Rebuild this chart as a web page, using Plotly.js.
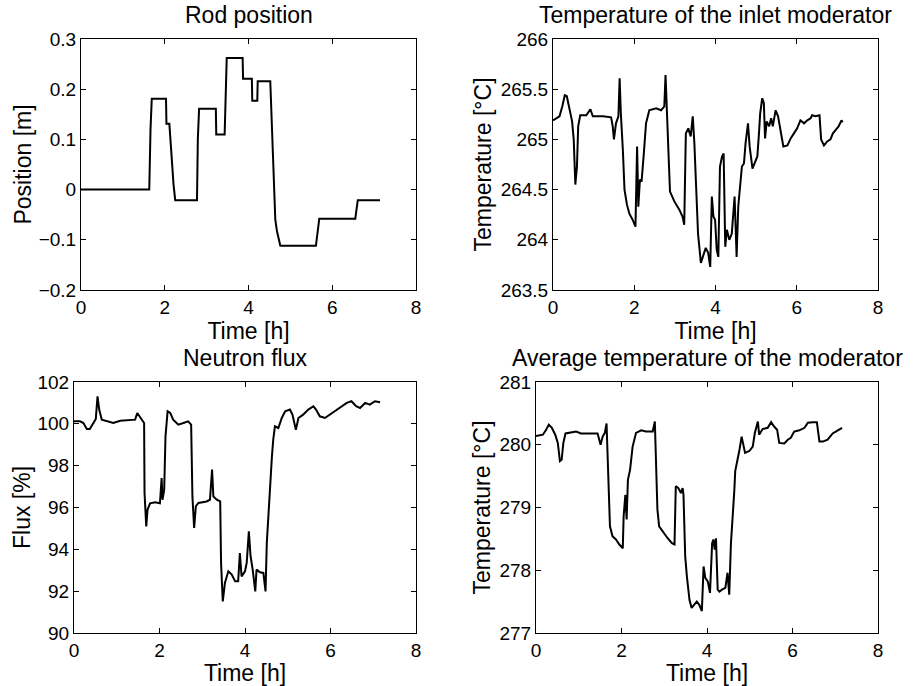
<!DOCTYPE html>
<html>
<head>
<meta charset="utf-8">
<script src="https://cdn.plot.ly/plotly-3.0.1.min.js"></script>
<style>html,body{margin:0;padding:0;background:#fff;}#chart{width:913px;height:686px;}</style>
</head>
<body>
<div id="chart"></div>
<script>
// ---- Rod position (top left) ----
const rodTime = [0, 1.63, 1.66, 1.69, 2.03, 2.04, 2.11, 2.16, 2.21, 2.25, 2.77, 2.79, 2.82, 3.22, 3.23, 3.43, 3.45, 3.48, 3.86, 3.87, 4.08, 4.09, 4.21, 4.22, 4.52, 4.56, 4.61, 4.64, 4.68, 4.76, 5.61, 5.69, 6.55, 6.61, 7.14];
const rodPos  = [0, 0, 0.12, 0.181, 0.181, 0.131, 0.131, 0.06, 0.01, -0.021, -0.021, 0.1, 0.161, 0.161, 0.11, 0.11, 0.2, 0.262, 0.262, 0.221, 0.221, 0.177, 0.177, 0.216, 0.216, 0.12, 0.013, -0.06, -0.083, -0.112, -0.112, -0.058, -0.058, -0.021, -0.021];

// ---- Inlet moderator temperature (top right) ----
const inletTime = [0, 0.08, 0.16, 0.23, 0.29, 0.34, 0.41, 0.47, 0.51, 0.55, 0.59, 0.62, 0.67, 0.82, 0.92, 0.98, 1.23, 1.43, 1.47, 1.50, 1.55, 1.61, 1.64, 1.67, 1.72, 1.76, 1.82, 1.88, 1.96, 2.03, 2.07, 2.10, 2.14, 2.18, 2.23, 2.29, 2.37, 2.54, 2.66, 2.74, 2.77, 2.81, 2.85, 2.88, 2.99, 3.11, 3.19, 3.23, 3.27, 3.33, 3.39, 3.44, 3.48, 3.52, 3.57, 3.64, 3.72, 3.76, 3.82, 3.87, 3.91, 3.95, 3.99, 4.03, 4.07, 4.11, 4.16, 4.20, 4.24, 4.28, 4.34, 4.40, 4.47, 4.52, 4.56, 4.61, 4.65, 4.70, 4.74, 4.80, 4.84, 4.91, 5.03, 5.07, 5.10, 5.15, 5.19, 5.22, 5.26, 5.32, 5.37, 5.41, 5.48, 5.54, 5.60, 5.67, 5.77, 5.85, 5.93, 6.01, 6.09, 6.18, 6.26, 6.34, 6.38, 6.46, 6.56, 6.60, 6.67, 6.75, 6.83, 6.89, 6.95, 7.03, 7.10, 7.13];
const inletTemp = [265.19, 265.21, 265.23, 265.33, 265.44, 265.43, 265.28, 265.18, 265.0, 264.55, 264.73, 265.13, 265.24, 265.24, 265.30, 265.23, 265.23, 265.22, 265.13, 265.0, 265.16, 265.23, 265.61, 265.26, 264.89, 264.50, 264.35, 264.26, 264.20, 264.13, 264.93, 264.33, 264.60, 264.58, 264.83, 265.16, 265.29, 265.31, 265.29, 265.33, 265.64, 265.29, 264.79, 264.48, 264.38, 264.30, 264.23, 264.15, 265.06, 265.11, 265.03, 265.23, 264.96, 264.56, 264.06, 263.77, 263.87, 263.92, 263.87, 263.73, 264.43, 264.23, 264.20, 263.90, 263.83, 264.73, 264.83, 264.86, 263.93, 264.10, 264.00, 264.06, 264.43, 263.83, 264.33, 264.53, 264.73, 264.76, 264.96, 265.16, 264.93, 264.71, 264.83, 265.06, 265.26, 265.41, 265.36, 265.01, 265.18, 265.13, 265.21, 265.13, 265.29, 265.23, 265.09, 264.93, 264.94, 265.01, 265.06, 265.11, 265.19, 265.16, 265.19, 265.21, 265.24, 265.23, 265.24, 265.0, 264.94, 264.98, 265.0, 265.06, 265.09, 265.13, 265.19, 265.17];

// ---- Neutron flux (bottom left) ----
const fluxTime = [0, 0.14, 0.22, 0.30, 0.37, 0.45, 0.51, 0.55, 0.59, 0.65, 0.76, 0.92, 1.08, 1.31, 1.43, 1.48, 1.54, 1.61, 1.64, 1.65, 1.69, 1.72, 1.78, 1.90, 2.01, 2.05, 2.07, 2.11, 2.14, 2.19, 2.25, 2.32, 2.44, 2.56, 2.67, 2.74, 2.77, 2.81, 2.85, 2.91, 3.10, 3.18, 3.23, 3.26, 3.34, 3.42, 3.44, 3.48, 3.53, 3.61, 3.69, 3.77, 3.84, 3.88, 3.92, 4.00, 4.04, 4.09, 4.13, 4.18, 4.24, 4.27, 4.35, 4.43, 4.48, 4.51, 4.55, 4.59, 4.63, 4.66, 4.70, 4.78, 4.86, 4.94, 5.05, 5.11, 5.19, 5.25, 5.36, 5.48, 5.60, 5.66, 5.75, 5.87, 5.99, 6.11, 6.22, 6.38, 6.49, 6.60, 6.69, 6.81, 6.92, 7.04, 7.16];
const fluxPct  = [100.12, 100.12, 100.04, 99.75, 99.75, 100.04, 100.23, 101.31, 100.68, 100.20, 100.12, 100.04, 100.15, 100.17, 100.2, 100.52, 100.33, 100.12, 100.04, 96.69, 95.1, 95.9, 96.2, 96.25, 96.2, 97.41, 96.37, 96.85, 99.4, 100.6, 100.52, 100.2, 99.96, 100.04, 100.12, 99.96, 96.53, 95.02, 96.06, 96.22, 96.29, 96.37, 97.81, 96.53, 96.37, 96.29, 93.35, 91.51, 92.39, 92.95, 92.79, 92.47, 92.47, 93.82, 92.71, 92.95, 93.35, 94.86, 93.67, 93.03, 91.99, 93.03, 92.9, 92.87, 91.99, 94.3, 95.74, 97.49, 98.45, 99.24, 99.88, 99.8, 100.28, 100.6, 100.68, 100.44, 99.72, 100.28, 100.44, 100.68, 100.84, 100.68, 100.36, 100.28, 100.44, 100.6, 100.76, 101.0, 101.08, 100.84, 100.76, 101.0, 100.92, 101.08, 101.03];

// ---- Average moderator temperature (bottom right) ----
const avgTime = [0, 0.16, 0.23, 0.30, 0.37, 0.45, 0.51, 0.56, 0.60, 0.64, 0.69, 0.82, 0.94, 1.05, 1.25, 1.44, 1.48, 1.51, 1.56, 1.61, 1.65, 1.68, 1.70, 1.73, 1.79, 1.87, 1.95, 2.03, 2.05, 2.09, 2.12, 2.15, 2.20, 2.26, 2.34, 2.46, 2.57, 2.73, 2.78, 2.80, 2.84, 2.88, 2.96, 3.08, 3.18, 3.24, 3.27, 3.33, 3.39, 3.43, 3.45, 3.49, 3.53, 3.59, 3.64, 3.70, 3.76, 3.82, 3.88, 3.92, 3.96, 4.02, 4.07, 4.12, 4.15, 4.18, 4.21, 4.25, 4.29, 4.35, 4.43, 4.48, 4.52, 4.56, 4.60, 4.64, 4.66, 4.72, 4.76, 4.81, 4.85, 4.89, 4.99, 5.07, 5.12, 5.19, 5.22, 5.30, 5.42, 5.50, 5.57, 5.64, 5.69, 5.81, 5.89, 5.96, 6.04, 6.16, 6.28, 6.36, 6.47, 6.57, 6.63, 6.71, 6.82, 6.94, 7.06, 7.16];
const avgTemp = [280.14, 280.16, 280.23, 280.32, 280.27, 280.16, 280.03, 279.74, 279.76, 280.03, 280.18, 280.19, 280.21, 280.18, 280.18, 280.18, 280.08, 280.0, 280.13, 280.19, 280.34, 279.6, 279.07, 278.70, 278.54, 278.49, 278.41, 278.35, 278.86, 279.20, 278.81, 279.44, 279.6, 279.97, 280.19, 280.23, 280.21, 280.21, 280.37, 279.71, 278.97, 278.70, 278.62, 278.51, 278.43, 278.41, 279.34, 279.31, 279.23, 279.31, 279.20, 278.22, 277.90, 277.53, 277.40, 277.45, 277.50, 277.45, 277.35, 278.06, 277.88, 277.82, 277.64, 278.43, 278.49, 278.33, 278.51, 277.69, 277.66, 277.69, 277.72, 277.96, 277.61, 278.43, 278.81, 279.28, 279.58, 279.76, 279.92, 280.13, 280.0, 279.87, 279.9, 279.97, 280.19, 280.37, 280.16, 280.25, 280.27, 280.36, 280.29, 280.24, 280.03, 280.02, 280.08, 280.11, 280.21, 280.23, 280.27, 280.35, 280.36, 280.36, 280.05, 280.05, 280.08, 280.18, 280.23, 280.27];

const titles = ['Rod position', 'Temperature of the inlet moderator', 'Neutron flux', 'Average temperature of the moderator'];
const yTitles = ['Position [m]', 'Temperature [°C]', 'Flux [%]', 'Temperature [°C]'];
const xTitle = 'Time [h]';

const FONT = 'Liberation Sans, Arial, Helvetica, sans-serif';
const line = {color: '#000', width: 2};

const traces = [
  {x: rodTime, y: rodPos, xaxis: 'x', yaxis: 'y', mode: 'lines', line: line},
  {x: inletTime, y: inletTemp, xaxis: 'x2', yaxis: 'y2', mode: 'lines', line: line},
  {x: fluxTime, y: fluxPct, xaxis: 'x3', yaxis: 'y3', mode: 'lines', line: line},
  {x: avgTime, y: avgTemp, xaxis: 'x4', yaxis: 'y4', mode: 'lines', line: line}
];

function xa(domain, anchor) {
  return {
    domain: domain, anchor: anchor, range: [0, 8], tickvals: [0, 2, 4, 6, 8],
    ticks: 'inside', ticklen: 5, tickcolor: '#000', showline: true, linecolor: '#000', linewidth: 1,
    mirror: 'ticks', showgrid: false, zeroline: false, automargin: false,
    tickfont: {family: FONT, size: 19, color: '#000'},
    title: {text: xTitle, font: {family: FONT, size: 23, color: '#000'}, standoff: 0}
  };
}
function ya(domain, anchor, range, dtick, title, standoff) {
  return {
    domain: domain, anchor: anchor, range: range, dtick: dtick, tick0: range[0],
    ticks: 'inside', ticklen: 5, tickcolor: '#000', showline: true, linecolor: '#000', linewidth: 1,
    mirror: 'ticks', showgrid: false, zeroline: false, automargin: false,
    tickfont: {family: FONT, size: 19, color: '#000'},
    title: {text: title, font: {family: FONT, size: 23, color: '#000'}, standoff: standoff}
  };
}

const W = 913, H = 686;
const topY = [1 - 290 / H, 1 - 39 / H];
const botY = [1 - 633 / H, 1 - 382 / H];

const layout = {
  width: W, height: H,
  margin: {l: 0, r: 0, t: 0, b: 0},
  paper_bgcolor: '#fff', plot_bgcolor: '#fff',
  showlegend: false,
  font: {family: FONT, color: '#000'},
  xaxis: xa([81 / W, 416 / W], 'y'),
  yaxis: ya(topY, 'x', [-0.2, 0.3], 0.1, yTitles[0], 0),
  xaxis2: xa([553 / W, 878 / W], 'y2'),
  yaxis2: ya(topY, 'x2', [263.5, 266], 0.5, yTitles[1], 2),
  xaxis3: xa([74 / W, 416 / W], 'y3'),
  yaxis3: ya(botY, 'x3', [90, 102], 2, yTitles[2], 0),
  xaxis4: xa([536 / W, 878 / W], 'y4'),
  yaxis4: ya(botY, 'x4', [277, 281], 1, yTitles[3], 2),
  annotations: [
    {text: titles[0], x: (81 + 416) / 2 / W, y: 1 - 15 / H},
    {text: titles[1], x: (553 + 878) / 2 / W, y: 1 - 15 / H},
    {text: titles[2], x: (74 + 416) / 2 / W, y: 1 - 358 / H},
    {text: titles[3], x: (536 + 878) / 2 / W, y: 1 - 358 / H}
  ].map(a => Object.assign(a, {xref: 'paper', yref: 'paper', xanchor: 'center', yanchor: 'middle', showarrow: false, font: {family: FONT, size: 23, color: '#000'}}))
};

Plotly.newPlot('chart', traces, layout, {staticPlot: true, displayModeBar: false});
</script>
</body>
</html>
